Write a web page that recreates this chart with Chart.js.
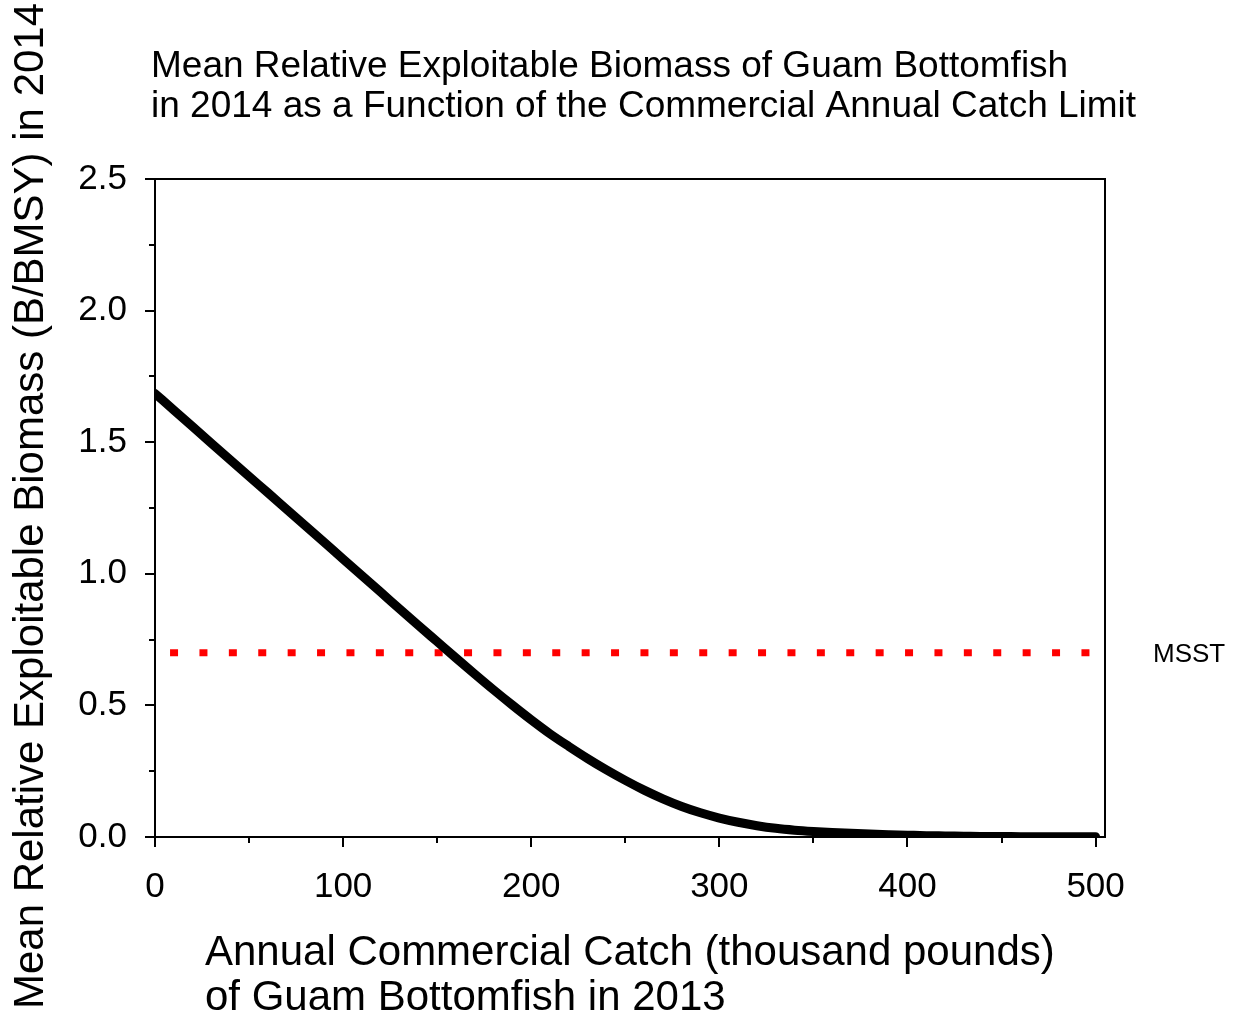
<!DOCTYPE html>
<html>
<head>
<meta charset="utf-8">
<title>Guam Bottomfish Biomass vs Catch</title>
<script src="https://cdn.jsdelivr.net/npm/chart.js@4.4.1/dist/chart.umd.min.js"></script>
<style>
  html, body { margin: 0; padding: 0; background: #ffffff; }
  #wrap { width: 1238px; height: 1021px; }
</style>
</head>
<body>
<div id="wrap"><canvas id="chart" width="1238" height="1021"></canvas></div>
<script>
// Annual commercial catch in 2013 (thousand pounds)
const catchLevels = [0, 10, 20, 30, 40, 50, 60, 70, 80, 90, 100, 110, 120, 130, 140, 150, 160, 170, 180, 190,
  200, 210, 220, 230, 240, 250, 260, 270, 280, 290, 300, 310, 320, 330, 340, 350, 360, 370, 380, 390,
  400, 410, 420, 430, 440, 450, 460, 470, 480, 490, 500];
// Mean relative exploitable biomass (B/BMSY) in 2014
const relBiomass = [1.685, 1.622, 1.559, 1.496, 1.433, 1.370, 1.308, 1.245, 1.182, 1.119, 1.056, 0.993, 0.930, 0.867, 0.804, 0.742, 0.680, 0.619, 0.559, 0.501,
  0.445, 0.392, 0.344, 0.298, 0.255, 0.215, 0.178, 0.145, 0.116, 0.092, 0.072, 0.056, 0.043, 0.033, 0.026, 0.021, 0.017, 0.014, 0.011, 0.009,
  0.007, 0.005, 0.004, 0.003, 0.002, 0.002, 0.001, 0.001, 0.001, 0.001, 0.001];
// Minimum stock size threshold and its drawn extent on the catch axis
const msstLevel = 0.7;
const msstSpan = [8, 505];
const msstLabel = 'MSST';
// Axis ticks
const xMajorTicks = [0, 100, 200, 300, 400, 500];
const xMinorTicks = [50, 150, 250, 350, 450];
const yMajorTicks = [0.0, 0.5, 1.0, 1.5, 2.0, 2.5];
const yMinorTicks = [0.25, 0.75, 1.25, 1.75, 2.25];
const xRange = [0, 505];
const yRange = [0, 2.5];
// Text
const titleLines = ['Mean Relative Exploitable Biomass of Guam Bottomfish',
  'in 2014 as a Function of the Commercial Annual Catch Limit'];
const xTitleLines = ['Annual Commercial Catch (thousand pounds)', 'of Guam Bottomfish in 2013'];
const yTitle = 'Mean Relative Exploitable Biomass (B/BMSY) in 2014';

const FONT = '"Liberation Sans", Arial, Helvetica, sans-serif';

const curvePoints = catchLevels.map((c, i) => ({ x: c, y: relBiomass[i] }));
const msstPoints = msstSpan.map(c => ({ x: c, y: msstLevel }));

// Frame, tick marks and text drawn around the plot area
const decorations = {
  id: 'decorations',
  afterDraw(chart) {
    const ctx = chart.ctx;
    const a = chart.chartArea;
    const xs = chart.scales.x, ys = chart.scales.y;
    ctx.save();
    ctx.strokeStyle = '#000';
    ctx.lineWidth = 2;
    ctx.strokeRect(a.left, a.top, a.right - a.left, a.bottom - a.top);

    ctx.lineWidth = 2;
    ctx.beginPath();
    xMajorTicks.forEach(v => { const p = Math.round(xs.getPixelForValue(v)); ctx.moveTo(p, a.bottom); ctx.lineTo(p, a.bottom + 10); });
    xMinorTicks.forEach(v => { const p = Math.round(xs.getPixelForValue(v)); ctx.moveTo(p, a.bottom); ctx.lineTo(p, a.bottom + 6); });
    yMajorTicks.forEach(v => { const p = Math.round(ys.getPixelForValue(v)); ctx.moveTo(a.left, p); ctx.lineTo(a.left - 10, p); });
    yMinorTicks.forEach(v => { const p = Math.round(ys.getPixelForValue(v)); ctx.moveTo(a.left, p); ctx.lineTo(a.left - 6, p); });
    ctx.stroke();

    ctx.fillStyle = '#000';
    ctx.textBaseline = 'alphabetic';
    ctx.textAlign = 'left';
    ctx.font = '37px ' + FONT;
    ctx.fillText(titleLines[0], 151, 77);
    ctx.fillText(titleLines[1], 151, 117);

    ctx.font = '42px ' + FONT;
    ctx.fillText(xTitleLines[0], 205, 965);
    ctx.fillText(xTitleLines[1], 205, 1010);

    ctx.font = '26px ' + FONT;
    ctx.fillText(msstLabel, 1153, 662);

    ctx.translate(43, 506);
    ctx.rotate(-Math.PI / 2);
    ctx.textAlign = 'center';
    ctx.font = '42px ' + FONT;
    ctx.fillText(yTitle, 0, 0);
    ctx.restore();
  }
};

new Chart(document.getElementById('chart'), {
  type: 'line',
  data: {
    datasets: [
      {
        label: 'Biomass',
        data: curvePoints,
        borderColor: '#000000',
        borderWidth: 9,
        borderCapStyle: 'round',
        borderJoinStyle: 'round',
        pointRadius: 0,
        cubicInterpolationMode: 'monotone',
        fill: false,
        order: 0
      },
      {
        label: msstLabel,
        data: msstPoints,
        borderColor: '#ff0000',
        borderWidth: 7,
        borderDash: [8, 21.4],
        borderCapStyle: 'butt',
        pointRadius: 0,
        fill: false,
        order: 1
      }
    ]
  },
  options: {
    responsive: false,
    animation: false,
    devicePixelRatio: 1,
    layout: { padding: { left: 0, top: 179, right: 133, bottom: 0 } },
    plugins: { legend: { display: false }, tooltip: { enabled: false }, title: { display: false } },
    scales: {
      x: {
        type: 'linear',
        min: xRange[0],
        max: xRange[1],
        grid: { display: false, drawTicks: false },
        border: { display: false },
        afterBuildTicks: s => { s.ticks = xMajorTicks.map(v => ({ value: v })); },
        afterFit: s => { s.height = 184; },
        ticks: {
          color: '#000',
          font: { family: FONT, size: 35 },
          padding: 29,
          maxRotation: 0,
          autoSkip: false,
          callback: v => String(v)
        }
      },
      y: {
        type: 'linear',
        min: yRange[0],
        max: yRange[1],
        grid: { display: false, drawTicks: false },
        border: { display: false },
        afterBuildTicks: s => { s.ticks = yMajorTicks.map(v => ({ value: v })); },
        afterFit: s => { s.width = 155; },
        ticks: {
          color: '#000',
          font: { family: FONT, size: 35 },
          padding: 28,
          autoSkip: false,
          callback: v => Number(v).toFixed(1)
        }
      }
    }
  },
  plugins: [decorations]
});
</script>
</body>
</html>
